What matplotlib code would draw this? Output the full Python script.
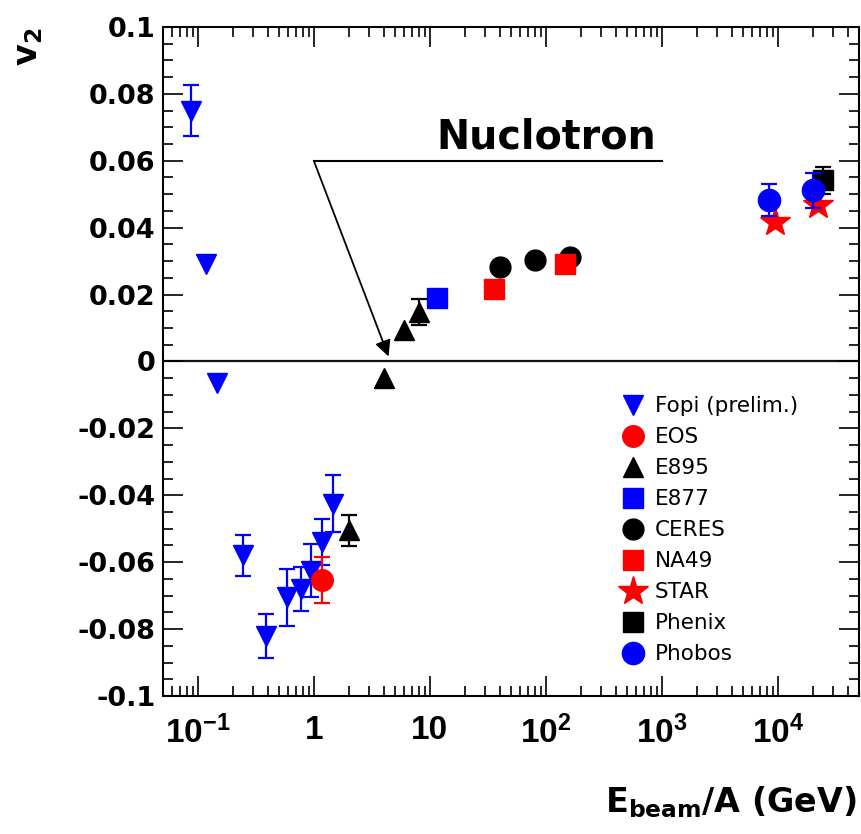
import matplotlib
matplotlib.use('Agg')
import matplotlib.pyplot as plt
from matplotlib.ticker import MultipleLocator, NullFormatter
import numpy as np

BLUE = '#0000FF'
RED = '#FF0000'
BLACK = '#000000'

plt.rcParams.update({
    'font.family': 'DejaVu Sans',
    'mathtext.fontset': 'custom',
    'mathtext.rm': 'Liberation Sans:bold',
    'mathtext.it': 'Liberation Sans:bold',
    'mathtext.bf': 'Liberation Sans:bold',
    'mathtext.sf': 'DejaVu Sans:bold',
    'mathtext.default': 'rm',
})

# v2 vs beam energy per nucleon (GeV), one set of arrays per experiment
fopi_e = [0.088, 0.118, 0.145, 0.245, 0.39, 0.59, 0.78, 0.95, 1.17, 1.47]
fopi_v2 = [0.075, 0.029, -0.0065, -0.058, -0.082, -0.0705, -0.068, -0.0625, -0.054, -0.0425]
fopi_err = [0.0075, 0, 0, 0.006, 0.0065, 0.0085, 0.0065, 0.008, 0.0068, 0.0085]

eos_e = [1.17]
eos_v2 = [-0.0653]
eos_err = [0.0068]

e895_e = [2.0, 4.0, 6.0, 8.0]
e895_v2 = [-0.0505, -0.005, 0.0095, 0.0148]
e895_err = [0.0046, 0, 0, 0.004]

e877_e = [11.5]
e877_v2 = [0.019]

ceres_e = [40, 80, 160]
ceres_v2 = [0.0282, 0.0302, 0.0312]

na49_e = [36, 146]
na49_v2 = [0.0218, 0.029]

star_e = [9400, 22000]
star_v2 = [0.0417, 0.0467]

phenix_e = [24700]
phenix_v2 = [0.0542]
phenix_err = [0.004]

phobos_e = [8400, 20000]
phobos_v2 = [0.0482, 0.0512]
phobos_err = [0.0047, 0.0052]

x_ticks = [0.1, 1, 10, 100, 1000, 10000]
x_ticklabels = ['$10^{-1}$', '1', '10', '$10^{2}$', '$10^{3}$', '$10^{4}$']
y_ticks = [0.1, 0.08, 0.06, 0.04, 0.02, 0, -0.02, -0.04, -0.06, -0.08, -0.1]
y_ticklabels = ['0.1', '0.08', '0.06', '0.04', '0.02', '0',
                '-0.02', '-0.04', '-0.06', '-0.08', '-0.1']

fig = plt.figure(figsize=(8.62, 8.34), dpi=100)
ax = fig.add_axes([0.1891, 0.1655, 0.8074, 0.8022])
ax.set_xscale('log')
ax.set_xlim(0.05, 5e4)
ax.set_ylim(-0.1, 0.1)

ax.axhline(0, color='#111111', lw=1.6, zorder=1)


def draw(e, v2, marker, color, ms, label, err=None):
    e = np.asarray(e, float)
    v2 = np.asarray(v2, float)
    if err is not None:
        err = np.asarray(err, float)
        m = err > 0
        ax.errorbar(e[m], v2[m], yerr=err[m], fmt='none', ecolor=color,
                    elinewidth=1.6, capsize=5.5, capthick=1.6, zorder=3)
    ax.plot(e, v2, ls='none', marker=marker, color=color, ms=ms,
            mec=color, label=label, zorder=3)


draw(fopi_e, fopi_v2, 'v', BLUE, 15, 'Fopi (prelim.)', fopi_err)
draw(eos_e, eos_v2, 'o', RED, 15.5, 'EOS', eos_err)
draw(e895_e, e895_v2, '^', BLACK, 14.5, 'E895', e895_err)
draw(e877_e, e877_v2, 's', BLUE, 15, 'E877')
draw(ceres_e, ceres_v2, 'o', BLACK, 15, 'CERES')
draw(na49_e, na49_v2, 's', RED, 15, 'NA49')
draw(star_e, star_v2, '*', RED, 22, 'STAR')
draw(phenix_e, phenix_v2, 's', BLACK, 15, 'Phenix', phenix_err)
draw(phobos_e, phobos_v2, 'o', BLUE, 16, 'Phobos', phobos_err)

# Nuclotron energy marker
ax.text(100, 0.0638, 'Nuclotron', ha='center', va='baseline',
        fontsize=28.5, fontweight='bold', family='DejaVu Sans')
ax.plot([1.0, 1000], [0.0599, 0.0599], color='k', lw=1.5, zorder=2)
ax.annotate('', xy=(4.4, 0.0015), xytext=(1.0, 0.0599),
            arrowprops=dict(arrowstyle='-|>', color='k', lw=1.3,
                            mutation_scale=24, shrinkA=0, shrinkB=0))

# axis ticks
ax.set_xticks(x_ticks)
ax.set_xticklabels(x_ticklabels)
ax.xaxis.set_minor_formatter(NullFormatter())
for lbl in ax.get_xticklabels():
    lbl.set_family('Liberation Sans')
    lbl.set_fontweight('bold')
    lbl.set_fontsize(24)
ax.set_yticks(y_ticks)
ax.set_yticklabels(y_ticklabels, fontsize=19.5, fontweight='bold')
ax.yaxis.set_minor_locator(MultipleLocator(0.005))

ax.tick_params(which='both', direction='in', top=True, right=True, width=1.2)
ax.tick_params(which='major', length=14.5)
ax.tick_params(which='minor', length=7.5)
ax.tick_params(axis='x', which='major', pad=14)
ax.tick_params(axis='y', which='major', pad=5.5)
for sp in ax.spines.values():
    sp.set_linewidth(1.5)

ax.legend(loc='upper left', bbox_to_anchor=(0.6595, 0.4477), frameon=False,
          borderaxespad=0, borderpad=0, handlelength=1.0, handletextpad=0.53,
          labelspacing=0.51, numpoints=1,
          prop=dict(family='DejaVu Sans', size=15.5))

fig.text(0.0325, 0.9436, r'v$_{\mathsf{2}}$', rotation=90, ha='center',
         va='center', fontsize=24, fontweight='bold', family='DejaVu Sans')
fig.text(0.994, 0.0252, r'$\mathsf{E}_{\mathsf{beam}}$/A (GeV)', ha='right',
         va='baseline', fontsize=24, fontweight='bold', family='DejaVu Sans')

fig.savefig('out.png', dpi=100)
